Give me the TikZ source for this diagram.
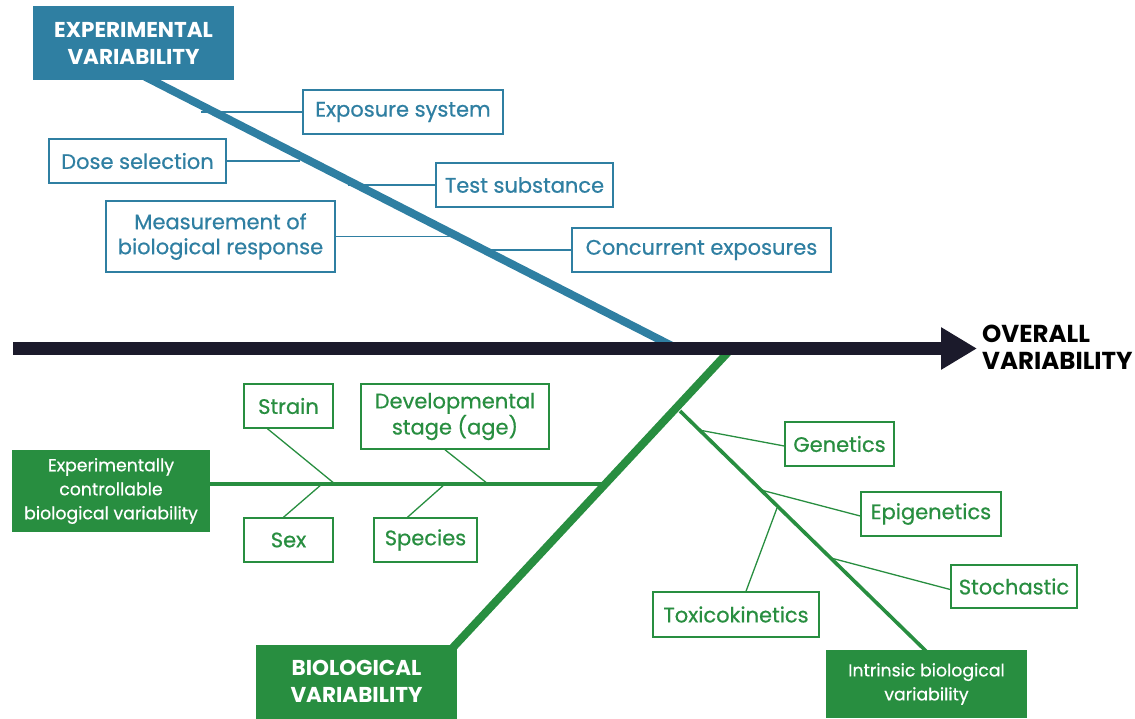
\documentclass[tikz,border=0pt]{standalone}
\usepackage{fontspec}
\setmainfont{Poppins}
\newfontfamily\boxfont{Poppins}[FakeBold=0.6]
\usetikzlibrary{arrows.meta,calc,backgrounds}
\definecolor{evblue}{RGB}{47,127,162}
\definecolor{bgreen}{RGB}{40,142,64}
\definecolor{adark}{RGB}{27,26,43}
\begin{document}
\begin{tikzpicture}[x=1pt,y=-1pt,
  basebox/.style={line width=1.5pt, fill=white, align=center, inner sep=0pt,
    font=\boxfont\fontsize{21}{25}\selectfont},
  bbox/.style={basebox, draw=evblue, text=evblue},
  gbox/.style={basebox, draw=bgreen, text=bgreen},
  headbox/.style={align=center, inner sep=0pt, text=white,
    font=\fontsize{21.5}{27}\selectfont\bfseries},
  bhead/.style={headbox, fill=evblue},
  ghead/.style={headbox, fill=bgreen},
  gsub/.style={fill=bgreen, text=white, align=center, inner sep=0pt,
    font=\boxfont\fontsize{17.3}{24}\selectfont},
  bconn/.style={draw=evblue, line width=1.3pt},
  gconn/.style={draw=bgreen, line width=1.3pt},
  bspine/.style={draw=evblue, line width=8pt},
  gspine/.style={draw=bgreen, line width=8pt},
  gbranch/.style={draw=bgreen, line width=3.6pt},
]
\useasboundingbox (0,0) rectangle (1135,718);

% ---- experimental variability (blue) ----
\node[bhead, minimum width=201pt, minimum height=74pt] (ev) at (133.5,43) {EXPERIMENTAL\\VARIABILITY};
\node[bbox, minimum width=200pt, minimum height=44pt] (expo) at (403,112) {Exposure system};
\node[bbox, minimum width=177pt, minimum height=44pt] (dose) at (137.5,161) {Dose selection};
\node[bbox, minimum width=177pt, minimum height=44pt] (test) at (524.5,185) {Test substance};
\node[bbox, minimum width=229pt, minimum height=71pt] (meas) at (220.5,236.5) {Measurement of\\biological response};
\node[bbox, minimum width=259pt, minimum height=44pt] (conc) at (701.5,250) {Concurrent exposures};

% ---- overall ----
\node[anchor=west, align=left, inner sep=0pt, text=black,
  font=\fontsize{24.5}{27}\selectfont\bfseries] (overall) at (982,347) {OVERALL\\VARIABILITY};

% ---- biological variability (green) ----
\node[ghead, minimum width=201pt, minimum height=74pt] (bio) at (356.5,681.5) {BIOLOGICAL\\VARIABILITY};
\node[gsub, minimum width=198pt, minimum height=82pt] (ecb) at (111,491) {Experimentally\\controllable\\biological variability};
\node[gbox, minimum width=89pt, minimum height=44pt] (strain) at (288.5,406) {Strain};
\node[gbox, minimum width=188pt, minimum height=65pt] (dev) at (455,416.5) {Developmental\\stage (age)};
\node[gbox, minimum width=89pt, minimum height=44pt] (sex) at (288.5,540) {Sex};
\node[gbox, minimum width=103pt, minimum height=44pt] (species) at (425.5,540) {Species};
\node[gbox, minimum width=109pt, minimum height=44pt] (gen) at (839.5,444) {Genetics};
\node[gbox, minimum width=140pt, minimum height=44pt] (epi) at (931,514) {Epigenetics};
\node[gbox, minimum width=126pt, minimum height=43pt] (stoch) at (1014,586.5) {Stochastic};
\node[gbox, minimum width=166pt, minimum height=45pt] (toxi) at (736,614.5) {Toxicokinetics};
\node[gsub, minimum width=201pt, minimum height=68pt] (intr) at (926.5,684) {Intrinsic biological\\variability};

% ---- attachment coordinates ----
\coordinate (evtop) at (132,70);
\coordinate (evbot) at (676,348);
\coordinate (a1) at (201,112);
\coordinate (a2) at (300,161);
\coordinate (a3) at (348,185);
\coordinate (a4) at (451,236.5);
\coordinate (a5) at (478,250);
\coordinate (gtop) at (731,349);
\coordinate (gbot) at (446,655);
\coordinate (hstart) at (200,484);
\coordinate (hend) at (605,484);
\coordinate (h1) at (335,484);
\coordinate (h2) at (322,484);
\coordinate (h3) at (488,484);
\coordinate (h4) at (445,484);
\coordinate (ib1) at (680,411);
\coordinate (ib2) at (930,655);
\coordinate (b1) at (699,430);
\coordinate (b2) at (761,490);
\coordinate (b3) at (831,558);
\coordinate (b4) at (777,508);
\coordinate (astart) at (13,348.5);

\begin{scope}[on background layer]
  % blue spine and ribs
  \draw[bspine] (evtop) -- (evbot);
  \draw[bconn] (a1) -- (expo.west);
  \draw[bconn] (dose.east) -- (a2);
  \draw[bconn] (a3) -- (test.west);
  \draw[bconn] (meas.east) -- (a4);
  \draw[bconn] (a5) -- (conc.west);
  % green spine and branches
  \draw[gspine] (gtop) -- (gbot);
  \draw[gbranch] (hstart) -- (hend);
  \draw[gconn] ($(strain.south)+(-21,0)$) -- (h1);
  \draw[gconn] ($(sex.north)+(-5,0)$) -- (h2);
  \draw[gconn] ($(dev.south)+(-10,0)$) -- (h3);
  \draw[gconn] ($(species.north)+(-18,0)$) -- (h4);
  \draw[gbranch] (ib1) -- (ib2);
  \draw[gconn] (b1) -- ($(gen.west)+(0,2)$);
  \draw[gconn] (b2) -- ($(epi.west)+(0,2)$);
  \draw[gconn] (b3) -- ($(stoch.west)+(0,3)$);
  \draw[gconn] (b4) -- ($(toxi.north)+(10,0)$);
  % main arrow
  \draw[draw=adark, line width=13pt, -{Triangle[length=36pt,width=40pt]}] (astart) -- ($(overall.west)+(-5,1.5)$);
\end{scope}
\end{tikzpicture}
\end{document}
